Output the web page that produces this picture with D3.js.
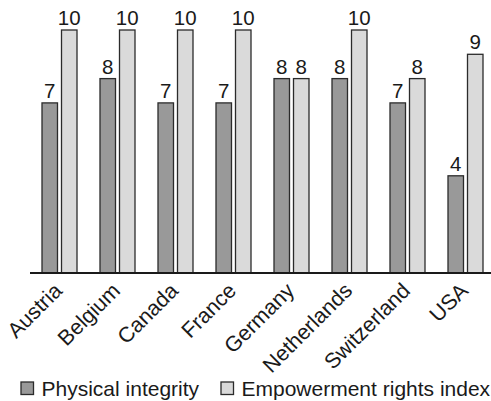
<!DOCTYPE html>
<html>
<head>
<meta charset="utf-8">
<script src="https://cdn.jsdelivr.net/npm/d3@7"></script>
<style>
  html, body { margin: 0; padding: 0; background: #fff; }
  svg { display: block; font-family: "Liberation Sans", Arial, Helvetica, sans-serif; }
</style>
</head>
<body>
<svg id="chart" width="491" height="401"></svg>
<script>
// Country scores
const countries = ["Austria", "Belgium", "Canada", "France", "Germany", "Netherlands", "Switzerland", "USA"];
const physicalIntegrity = [7, 8, 7, 7, 8, 8, 7, 4];
const empowermentRights = [10, 10, 10, 10, 8, 10, 8, 9];
const seriesNames = ["Physical integrity", "Empowerment rights index"];
const seriesColors = ["#999999", "#dadada"];

const svg = d3.select("#chart");
const baseY = 273;

const x = d3.scaleBand()
  .domain(countries)
  .range([30.5, 494.5])
  .paddingInner(0.4)
  .paddingOuter(0.2);

const y = d3.scaleLinear().domain([0, 10]).range([baseY, 30]);

const barW = 15.5;
const gap = 4;

const rows = countries.map((c, i) => ({ c, vals: [physicalIntegrity[i], empowermentRights[i]] }));

const groups = svg.selectAll("g.grp").data(rows).join("g")
  .attr("class", "grp")
  .attr("transform", d => `translate(${x(d.c) + x.bandwidth() / 2},0)`);

groups.each(function (d) {
  const g = d3.select(this);
  d.vals.forEach((v, k) => {
    const x0 = k === 0 ? -gap / 2 - barW : gap / 2;
    g.append("rect")
      .attr("x", x0)
      .attr("y", y(v))
      .attr("width", barW)
      .attr("height", baseY - y(v))
      .attr("fill", seriesColors[k])
      .attr("stroke", "#2b2b2b")
      .attr("stroke-width", 1.3);
    g.append("text")
      .attr("x", x0 + barW / 2)
      .attr("y", y(v) - 5)
      .attr("text-anchor", "middle")
      .attr("font-size", 20.5)
      .attr("fill", "#1a1a1a")
      .text(v);
  });
});

// Baseline
svg.append("line")
  .attr("x1", 30).attr("x2", 491)
  .attr("y1", baseY).attr("y2", baseY)
  .attr("stroke", "#1a1a1a")
  .attr("stroke-width", 1.8);

// Rotated category labels
svg.selectAll("text.cat").data(countries).join("text")
  .attr("class", "cat")
  .attr("text-anchor", "end")
  .attr("font-size", 21.5)
  .attr("fill", "#1a1a1a")
  .attr("transform", d => `translate(${x(d) + x.bandwidth() / 2 + 4},${baseY + 19}) rotate(-45)`)
  .text(d => d);

// Legend
const legend = svg.append("g").attr("transform", "translate(21,382)");
seriesNames.forEach((name, k) => {
  const item = legend.append("g").attr("transform", `translate(${k === 0 ? 0 : 200},0)`);
  item.append("rect")
    .attr("width", 12.5).attr("height", 12.5)
    .attr("fill", seriesColors[k])
    .attr("stroke", "#2b2b2b")
    .attr("stroke-width", 1.3);
  item.append("text")
    .attr("x", 20.5)
    .attr("y", 13.5)
    .attr("font-size", 21)
    .attr("fill", "#1a1a1a")
    .text(name);
});
</script>
</body>
</html>
